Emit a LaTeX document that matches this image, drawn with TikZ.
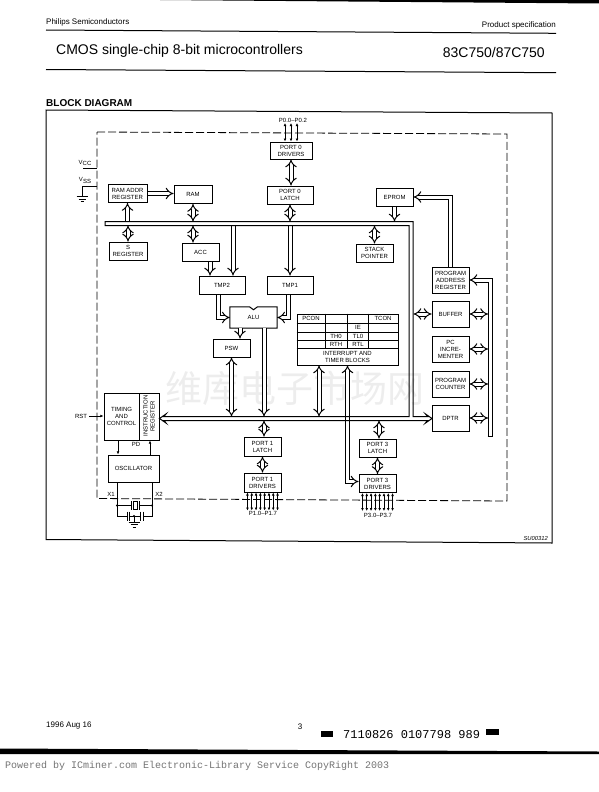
\documentclass[tikz,border=0pt]{standalone}
\usepackage{fontspec}
\setmainfont{Liberation Sans}
\setmonofont{Liberation Mono}
\newfontfamily\cjkwm{Noto Sans CJK SC}
\usetikzlibrary{calc,positioning,arrows.meta}
\tikzset{
	block/.style={draw, line width=1pt, inner sep=0pt, align=center, font=\fontsize{6}{7}\selectfont, minimum width=37pt, minimum height=18pt},
	lbl/.style={inner sep=0pt, font=\fontsize{6}{7}\selectfont, align=center},
	fatline/.style={double, double distance=3pt, line width=1pt},
	bibus/.style={fatline, {Implies}-{Implies}},
	unibus/.style={fatline, -{Implies}},
	thinarrow/.style={line width=0.8pt, -{Latex[length=3.2pt,width=2.8pt]}},
	pinline/.style={line width=0.8pt, {Latex[length=3pt,width=2.8pt]}-{Latex[length=3pt,width=2.8pt]}},
	wire/.style={line width=0.8pt},
	gnd/.pic={
		\draw[wire] (-5.5,0) -- (5.5,0) (-3.5,2.5) -- (3.5,2.5) (-1.5,5) -- (1.5,5);
	},
}
\begin{document}
\begin{tikzpicture}[x=1pt, y=-1pt]
				\useasboundingbox (0,0) rectangle (599,792);
				\node[gray!14, font={\cjkwm\fontsize{37}{37}\selectfont}, inner sep=0pt] (wmark) at (295,388) {维库电子市场网};

				\fill (160,0) -- (599,0) -- (599,3.5) -- cycle;
				\node[inner sep=0pt, anchor=west, font=\fontsize{8}{9}\selectfont] (maker) at (46,22.5) {Philips Semiconductors};
				\node[inner sep=0pt, anchor=east, font=\fontsize{8}{9}\selectfont] (spec) at (556,25.5) {Product specification};
				\draw[line width=1pt] (46,30) -- (556,33.3);
				\node[inner sep=0pt, anchor=west, font=\fontsize{14}{15}\selectfont] (title) at (56,50.5) {CMOS single-chip 8-bit microcontrollers};
				\node[inner sep=0pt, anchor=east, font=\fontsize{14}{15}\selectfont] (part) at (545,52.5) {83C750/87C750};
				\draw[line width=1pt] (46,69.5) -- (556,72.7);
				\node[inner sep=0pt, anchor=west, font=\fontsize{10}{11}\selectfont\bfseries] (head) at (46,103) {BLOCK DIAGRAM};
				\draw[line width=1pt] (46,110) -- (552,113) -- (552,543) -- (46,539.5) -- cycle;
				\node[inner sep=0pt, anchor=east, font=\fontsize{5.8}{6}\selectfont\itshape] (figno) at (548,538.5) {SU00312};

				\draw[line width=0.8pt, dash pattern=on 8pt off 3pt] (97,132) -- (507,134) -- (507,501) -- (97,498.5) -- cycle;

				\coordinate (bustop) at (0,221.5);
				\coordinate (busbot) at (0,225.5);
				\coordinate (insup) at (0,416.5);
				\coordinate (inlow) at (0,420.5);

				\node[block, minimum width=39pt] (ramaddr) at (127.5,193.5) {RAM ADDR\\REGISTER};
				\node[block, minimum width=38pt] (ram) at (193,194.5) {RAM};
				\node[block, minimum width=42pt, minimum height=17pt] (portzdrv) at (291,150.5) {PORT 0\\DRIVERS};
				\node[block, minimum width=46pt] (portzlat) at (290,195) {PORT 0\\LATCH};
				\node[block, minimum width=38pt] (sreg) at (128,251) {S\\REGISTER};
				\node[block] (acc) at (200.5,252) {ACC};
				\node[block, minimum width=46pt] (tmptwo) at (222,285) {TMP2};
				\node[block, minimum width=46pt] (tmpone) at (290,285) {TMP1};
				\node[lbl, minimum width=47pt, minimum height=21pt] (alu) at (253.5,317.5) {ALU};
				\draw[line width=1pt] (alu.north west) -- ([xshift=-4pt]alu.north) -- ([yshift=-3pt]alu.north) -- ([xshift=4pt]alu.north) -- (alu.north east) -- (alu.south east) -- (alu.south west) -- cycle;
				\node[block] (psw) at (231.5,348) {PSW};
				\node[block] (eprom) at (394.5,197) {EPROM};
				\node[block] (stack) at (374.5,253) {STACK\\POINTER};
				\node[block, minimum height=26pt] (progaddr) at (450.5,280) {PROGRAM\\ADDRESS\\REGISTER};
				\node[block, minimum height=26pt] (buffer) at (450.5,314) {BUFFER};
				\node[block, minimum height=26pt] (pcinc) at (450.5,349) {PC\\INCRE-\\MENTER};
				\node[block, minimum height=26pt] (progcnt) at (450.5,384) {PROGRAM\\COUNTER};
				\node[block, minimum height=26pt] (dptr) at (450.5,418) {DPTR};
				\node[block, minimum width=35pt, minimum height=47pt] (timing) at (121.5,416.5) {TIMING\\AND\\CONTROL};
				\node[block, minimum width=20pt, minimum height=47pt] (instr) at (149,416.5) {\rotatebox{90}{\parbox{40pt}{\centering INSTRUCTION\\REGISTER}}};
				\node[block, minimum width=51pt, minimum height=27pt] (osc) at (133.5,468.5) {OSCILLATOR};
				\node[block, minimum height=19pt] (portonelat) at (262.5,446.5) {PORT 1\\LATCH};
				\node[block, minimum height=19pt] (portonedrv) at (262.5,482.5) {PORT 1\\DRIVERS};
				\node[block] (portthreelat) at (377.5,448) {PORT 3\\LATCH};
				\node[block, minimum height=18pt] (portthreedrv) at (377.5,483.5) {PORT 3\\DRIVERS};

				\node[draw, line width=0.8pt, minimum width=101pt, minimum height=51pt, inner sep=0pt] (intblk) at (347.5,339.5) {};
				\foreach \y in {323,332,340,348}
					\draw[line width=0.7pt] (intblk.west |- 0,\y) -- (intblk.east |- 0,\y);
				\foreach \x in {325,347,368}
					\draw[line width=0.7pt] (\x,0 |- intblk.north) -- (\x,348);
				\node[lbl] (pcon) at (311,318.5) {PCON};
				\node[lbl] (tcon) at (383,318.5) {TCON};
				\node[lbl] (ie) at (358,327.5) {IE};
				\node[lbl] (thz) at (336,336) {TH0};
				\node[lbl] (tlz) at (358,336) {TL0};
				\node[lbl] (rth) at (336,344) {RTH};
				\node[lbl] (rtl) at (358,344) {RTL};
				\node[lbl] (intname) at (347.5,356.5) {INTERRUPT AND\\TIMER BLOCKS};

				\draw[unibus] (ramaddr.east) -- (ramaddr.east -| ram.west);
				\draw[fatline, {Implies}-] (ramaddr.south) -- (ramaddr.south |- bustop);
				\draw[bibus] (sreg.north |- busbot) -- (sreg.north);
				\draw[bibus] (ram.south) -- (ram.south |- bustop);
				\draw[bibus] ([xshift=-7.5pt]acc.north |- busbot) -- ([xshift=-7.5pt]acc.north);
				\draw[bibus] (portzdrv.south) -- (portzdrv.south |- portzlat.north);
				\draw[bibus] (portzlat.south) -- (portzlat.south |- bustop);
				\draw[unibus] ([xshift=9.5pt]acc.south) -- ([xshift=9.5pt]acc.south |- tmptwo.north);
				\draw[unibus] ([xshift=11pt]tmptwo.north |- busbot) -- ([xshift=11pt]tmptwo.north);
				\draw[unibus] (tmpone.north |- busbot) -- (tmpone.north);
				\draw[unibus] ([xshift=-4pt]tmptwo.south) |- (alu.west);
				\draw[unibus] ([xshift=-2pt]tmpone.south) |- (alu.east);
				\draw[unibus] ([xshift=8.5pt]psw.north |- alu.south) -- ([xshift=8.5pt]psw.north);
				\draw[bibus] (psw.south) -- (psw.south |- insup);
				\draw[unibus] ([xshift=10.5pt]alu.south) -- ([xshift=10.5pt]alu.south |- insup);
				\draw[bibus] ([xshift=1.5pt]portonelat.north |- inlow) -- ([xshift=1.5pt]portonelat.north);
				\draw[bibus] (portonelat.south) -- (portonelat.south |- portonedrv.north);
				\draw[bibus] ([xshift=-28.5pt]intblk.south) -- ([xshift=-28.5pt]intblk.south |- insup);
				\draw[bibus] (intblk.south) |- ([yshift=2pt]portthreedrv.west);
				\draw[bibus] ([xshift=1.5pt]portthreelat.north |- inlow) -- ([xshift=1.5pt]portthreelat.north);
				\draw[bibus] (portthreelat.south) -- (portthreelat.south |- portthreedrv.north);
				\draw[unibus] (eprom.south) -- (eprom.south |- bustop);
				\draw[bibus] (stack.north |- busbot) -- (stack.north);
				\draw[unibus] (progaddr.north) |- (eprom.east);
				\draw[bibus] (buffer.west) -- ++(-18,0);

				\draw[line width=1pt] (105,221.5) -- (413,221.5) -- (413,416.5) -- (427.5,416.5) -- (425.5,414) -- (432,418.5) -- (425.5,423) -- (427.5,420.5) -- (164,420.5) -- (166,423) -- (159.5,418.5) -- (166,414) -- (164,416.5) -- (409,416.5) -- (409,225.5) -- (105,225.5) -- cycle;

				\draw[fatline, {Implies}-] (progaddr.east) -| (490,436);
				\draw[line width=1pt] (487.5,436) -- (492.5,436);
				\foreach \blk in {buffer,pcinc,progcnt,dptr}
					\draw[bibus] (\blk.east) -- (\blk.east -| 488,0);

				\foreach \i in {-1,0,1}
					\draw[pinline] ([xshift={\i*6}]portzdrv.north) -- ++(0,-18.5);
				\node[lbl] (pzlbl) at (293,120.5) {P0.0–P0.2};
				\foreach \i in {0,...,7}
					\draw[pinline] ([xshift={(\i-3.5)*4.3}]portonedrv.south) -- ++(0,18);
				\node[lbl] (ponelbl) at (263,513.5) {P1.0–P1.7};
				\foreach \i in {0,...,7}
					\draw[pinline] ([xshift={(\i-3.5)*4.3}]portthreedrv.south) -- ++(0,18);
				\node[lbl] (pthreelbl) at (378,515) {P3.0–P3.7};

				\node[lbl] (vcc) at (85,163) {V\raisebox{-1.5pt}{CC}};
				\node[lbl] (vss) at (85,180.5) {V\raisebox{-1.5pt}{SS}};
				\coordinate (vccend) at (97,168);
				\coordinate (vssend) at (97,186);
				\draw[wire] (vccend) -- ++(-14,0);
				\draw[wire] (vssend) -- ++(-15,0) -- ++(0,10);
				\pic at (82,196.5) {gnd};

				\node[lbl] (rst) at (81,416) {RST};
				\draw[thinarrow] (rst.east) ++(2,0) -- (rst.east -| timing.west);
				\node[lbl] (pdlbl) at (136,444.5) {PD};
				\draw[thinarrow] ([xshift=-3.5pt]timing.south) -- ([xshift=-3.5pt]timing.south |- osc.north);
				\draw[thinarrow] ([xshift=16.5pt]osc.north) -- ([xshift=16.5pt]osc.north |- instr.south);

				\node[lbl] (xone) at (111,494) {X1};
				\node[lbl] (xtwo) at (159,494.5) {X2};
				\coordinate (xoa) at (117,505.5);
				\coordinate (xob) at (152,505.5);
				\coordinate (capmid) at (134,516);
				\draw[wire] (117,0 |- osc.south) -- (xoa) -- (131,505.5) (139,505.5) -- (xob);
				\draw[wire] (152,0 |- osc.south) -- (xob);
				\draw[wire] (xoa) |- (127,516) (129.5,516) -- (140.5,516) (143,516) -| (xob);
				\foreach \x in {127,129.5,140.5,143}
					\draw[wire] (\x,511.5) -- (\x,520.5);
				\foreach \x in {131,139}
					\draw[wire] (\x,501) -- (\x,510);
				\draw[wire] (133,501.5) rectangle (137,509.5);
				\fill (xoa) circle (1.2pt) (xob) circle (1.2pt) (capmid) circle (1.2pt);
				\draw[wire] (capmid) -- ++(0,6);
				\pic at (134,522) {gnd};

				\node[inner sep=0pt, anchor=west, font=\fontsize{8}{9}\selectfont] (date) at (46,726) {1996 Aug 16};
				\node[inner sep=0pt, font=\fontsize{8}{9}\selectfont] (pageno) at (300,727) {3};
				\fill (321,731) rectangle (333,737);
				\node[inner sep=0pt, anchor=west, font=\fontsize{12}{13}\ttfamily] (barcode) at (343,734.5) {7110826 0107798 989};
				\fill (486,729) rectangle (499,735);
				\fill (0,748.5) -- (599,751.5) -- (599,754) -- (0,754) -- cycle;
				\node[inner sep=0pt, anchor=west, gray!90!black, font=\fontsize{10}{12}\ttfamily] (powered) at (5,766) {Powered by ICminer.com Electronic-Library Service CopyRight 2003};
\end{tikzpicture}
\end{document}
